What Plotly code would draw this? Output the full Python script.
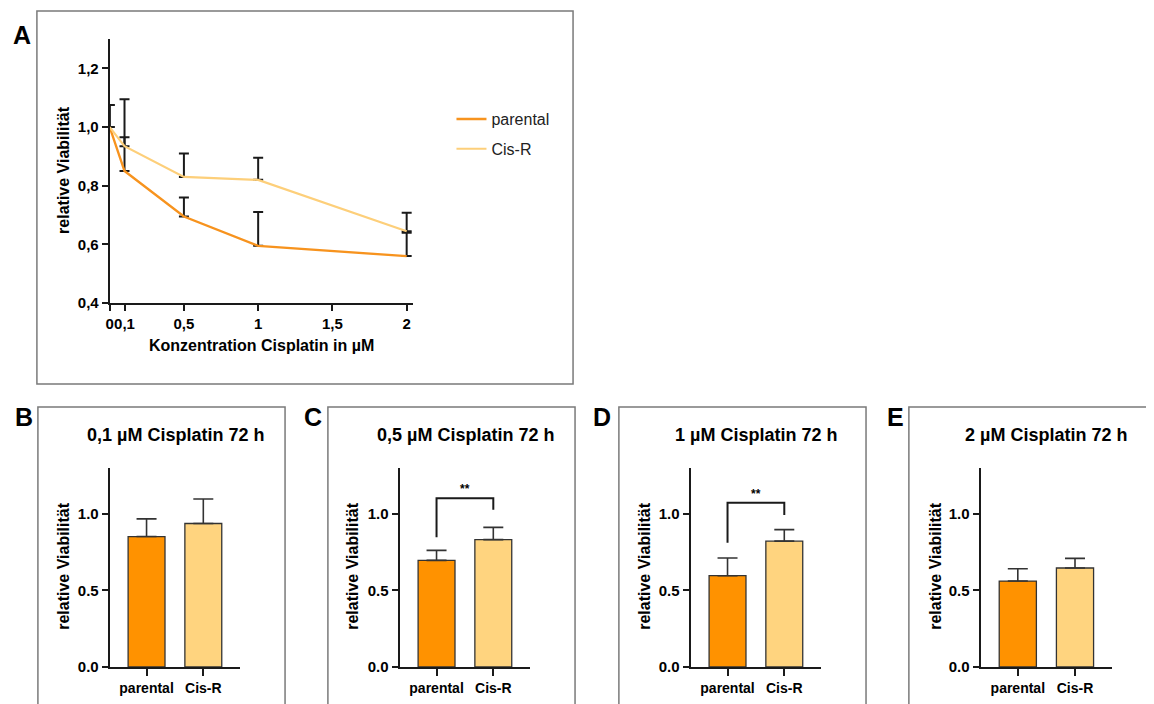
import plotly.graph_objects as go

# ---------------- data ----------------
conc = [0, 0.1, 0.5, 1, 2]
parental_mean = [1.0, 0.85, 0.695, 0.595, 0.56]
parental_sd = [0.075, 0.115, 0.065, 0.115, 0.08]
cisr_mean = [1.0, 0.935, 0.83, 0.82, 0.645]
cisr_sd = [0.075, 0.16, 0.08, 0.075, 0.063]

x_tickvals = [0, 0.1, 0.5, 1, 1.5, 2]
x_ticktext = ["0", "0,1", "0,5", "1", "1,5", "2"]
y_tickvals_a = [0.4, 0.6, 0.8, 1.0, 1.2]
y_ticktext_a = ["0,4", "0,6", "0,8", "1,0", "1,2"]

groups = ["parental", "Cis-R"]
panel_titles = ["0,1 µM Cisplatin 72 h", "0,5 µM Cisplatin 72 h",
                "1 µM Cisplatin 72 h", "2 µM Cisplatin 72 h"]
panel_letters = ["B", "C", "D", "E"]
# significance brackets (panel index -> [left leg bottom, top, right leg bottom, star y])
sig_brackets = {1: [0.845, 1.10, 1.025, 1.16], 2: [0.81, 1.07, 0.99, 1.13]}
sig_label = "**"

# ---------------- style ----------------
W, H = 1154, 704
OFF = 8        # page body margin
VS = 0.9888    # vertical scale observed in the rendered page
C_PAR_LINE = "#F7931E"
C_CIS_LINE = "#FDCF7A"
C_PAR_BAR = "#FF9200"
C_CIS_BAR = "#FFD47F"
FONT = "Liberation Sans, Arial, Helvetica, sans-serif"
AX = "#1a1a1a"


def px(x):
    return (x - OFF) / W


def py(y):
    return 1 - (y / VS - OFF) / H


fig = go.Figure()

# ---------------- panel A ----------------
fig.add_trace(go.Scatter(
    x=conc, y=parental_mean, mode="lines", name="parental",
    legendgroup="p",
    line=dict(color=C_PAR_LINE, width=2.4),
    error_y=dict(type="data", symmetric=False, array=parental_sd,
                 arrayminus=[0] * len(conc), color=AX, thickness=2, width=5),
    xaxis="x", yaxis="y"))
fig.add_trace(go.Scatter(
    x=conc, y=cisr_mean, mode="lines", name="Cis-R",
    legendgroup="c",
    line=dict(color=C_CIS_LINE, width=2.2),
    error_y=dict(type="data", symmetric=False, array=cisr_sd,
                 arrayminus=[0] * len(conc), color=AX, thickness=2, width=5),
    xaxis="x", yaxis="y"))

layout = dict(
    width=W, height=H,
    margin=dict(l=0, r=0, t=0, b=0),
    paper_bgcolor="white", plot_bgcolor="white",
    font=dict(family=FONT, color="black"),
    showlegend=True,
    legend=dict(x=px(449), y=py(102), xanchor="left", yanchor="top",
                font=dict(size=16, family=FONT, color="#222"),
                traceorder="grouped", tracegroupgap=6,
                bgcolor="rgba(0,0,0,0)", borderwidth=0),
    xaxis=dict(domain=[px(106), px(410)], range=[0, 2.04],
               tickvals=x_tickvals, ticktext=x_ticktext, tickangle=0,
               showgrid=False, zeroline=False, showline=True,
               linecolor=AX, linewidth=2, ticks="outside", ticklen=6,
               tickwidth=2, tickcolor=AX,
               tickfont=dict(size=15, family=FONT, weight="bold"),
               anchor="y"),
    yaxis=dict(domain=[py(303), py(39)], range=[0.4, 1.3],
               tickvals=y_tickvals_a, ticktext=y_ticktext_a,
               showgrid=False, zeroline=False, showline=True,
               linecolor=AX, linewidth=2, ticks="outside", ticklen=6,
               tickwidth=2, tickcolor=AX,
               tickfont=dict(size=15, family=FONT, weight="bold"),
               anchor="x"),
)


def ann(text, x, y, size, angle=0):
    return dict(text=text, x=px(x), y=py(y), xref="paper", yref="paper",
                xanchor="center", yanchor="middle", showarrow=False,
                textangle=angle, font=dict(size=size, family=FONT))


annotations = [
    ann("<b>A</b>", 18, 35, 25),
    ann("<b>relative Viabilität</b>", 59, 170, 16, -90),
    ann("<b>Konzentration Cisplatin in µM</b>", 258, 345, 16),
]

shapes = [
    dict(type="rect", xref="paper", yref="paper", x0=px(33), x1=px(571),
         y0=py(384), y1=py(11), line=dict(color="#7a7a7a", width=1.5)),
]

# ---------------- panels B-E ----------------
x_domains = [(106, 237), (397, 528), (689, 820), (980, 1112)]
frames = [(34, 282), (325, 573), (617, 865), (908, 1175)]
letter_x = [20, 310, 600, 895]
title_x = [172, 463, 755, 1046]
ytitle_x = [60, 350, 643, 935]

for i in range(4):
    k = i + 2
    xa, ya = f"x{k}", f"y{k}"
    idx = i + 1
    fig.add_trace(go.Bar(
        x=[0, 1], y=[parental_mean[idx], cisr_mean[idx]],
        width=0.65,
        marker=dict(color=[C_PAR_BAR, C_CIS_BAR],
                    line=dict(color="#333333", width=1.3)),
        error_y=dict(type="data", symmetric=False,
                     array=[parental_sd[idx], cisr_sd[idx]],
                     arrayminus=[0, 0], color="#333333", thickness=1.6,
                     width=10),
        showlegend=False, xaxis=xa, yaxis=ya))
    if i in sig_brackets:
        lb, top, rb, sy = sig_brackets[i]
        fig.add_trace(go.Scatter(
            x=[0, 0, 1, 1], y=[lb, top, top, rb], mode="lines",
            line=dict(color=AX, width=2), showlegend=False,
            hoverinfo="skip", xaxis=xa, yaxis=ya))
        annotations.append(dict(text="<b>" + sig_label + "</b>", x=0.5, y=sy,
                                xref=xa, yref=ya, xanchor="center",
                                yanchor="middle", showarrow=False,
                                font=dict(size=12, family=FONT)))
    x0, x1 = x_domains[i]
    layout[f"xaxis{k}"] = dict(
        domain=[px(x0), px(x1)], range=[-0.65, 1.65],
        tickvals=[0, 1], ticktext=groups, tickangle=0,
        showgrid=False, zeroline=False, showline=True, linecolor=AX,
        linewidth=2, ticks="outside", ticklen=7, tickwidth=2, tickcolor=AX,
        tickfont=dict(size=14, family=FONT, weight="bold"), anchor=ya)
    layout[f"yaxis{k}"] = dict(
        domain=[py(667), py(467.5)], range=[0, 1.3],
        tickvals=[0, 0.5, 1.0], ticktext=["0.0", "0.5", "1.0"],
        showgrid=False, zeroline=False, showline=True, linecolor=AX,
        linewidth=2, ticks="outside", ticklen=6, tickwidth=2, tickcolor=AX,
        tickfont=dict(size=15, family=FONT, weight="bold"), anchor=xa)
    fx0, fx1 = frames[i]
    shapes.append(dict(type="rect", xref="paper", yref="paper",
                       x0=px(fx0), x1=px(fx1), y0=py(730), y1=py(407),
                       line=dict(color="#7a7a7a", width=1.5)))
    annotations.append(ann("<b>" + panel_letters[i] + "</b>",
                           letter_x[i], 417, 25))
    annotations.append(ann("<b>" + panel_titles[i] + "</b>",
                           title_x[i], 435, 18))
    annotations.append(ann("<b>relative Viabilität</b>",
                           ytitle_x[i], 566, 16, -90))

layout["annotations"] = annotations
layout["shapes"] = shapes
fig.update_layout(**layout)

fig.write_html("out.html")
